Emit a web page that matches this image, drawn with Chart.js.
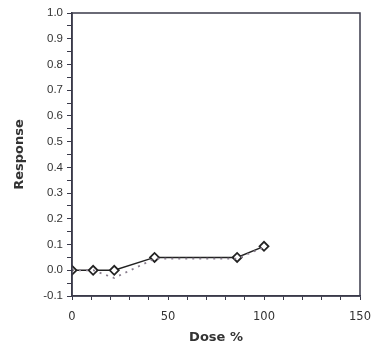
<!DOCTYPE html>
<html>
<head>
<meta charset="utf-8">
<script src="https://cdn.jsdelivr.net/npm/chart.js@4"></script>
<style>
  html, body { margin: 0; padding: 0; background: #fff; }
  #wrap { width: 372px; height: 349px; }
</style>
</head>
<body>
<div id="wrap"><canvas id="chart"></canvas></div>
<script>
// dose values (%)
var doses = [0, 11, 22, 43, 86, 100];
// solid line with diamonds
var responseObserved = [0.0, 0.0, 0.0, 0.05, 0.05, 0.093];
// dotted line
var responseFitted = [0.0, 0.0, -0.03, 0.045, 0.045, 0.09];

function toPoints(xs, ys) {
    return xs.map(function (x, i) { return { x: x, y: ys[i] }; });
}

// draw the frame round the plot area
var frame = {
    id: 'frame',
    afterDraw: function (chart) {
        var a = chart.chartArea;
        var c = chart.ctx;
        c.save();
        c.strokeStyle = '#3a3a4a';
        c.lineWidth = 1.5;
        c.strokeRect(a.left, a.top, a.right - a.left, a.bottom - a.top);
        c.restore();
    }
};

var ctx = document.getElementById('chart');
new Chart(ctx, {
    type: 'line',
    data: {
        datasets: [{
            label: 'fitted',
            data: toPoints(doses, responseFitted),
            borderColor: '#8a7f8f',
            borderWidth: 1.8,
            borderDash: [2, 5],
            pointRadius: 0,
            fill: false
        }, {
            label: 'observed',
            data: toPoints(doses, responseObserved),
            borderColor: '#222222',
            borderWidth: 1.5,
            pointStyle: 'rectRot',
            pointRadius: 4.5,
            pointBorderWidth: 1.8,
            pointBackgroundColor: '#ffffff',
            pointBorderColor: '#222222',
            fill: false
        }]
    },
    options: {
        responsive: true,
        maintainAspectRatio: false,
        animation: false,
        layout: { padding: { top: 13, right: 12, left: 0, bottom: 0 } },
        plugins: {
            legend: { display: false },
            tooltip: { enabled: false }
        },
        scales: {
            x: {
                type: 'linear',
                min: 0,
                max: 150,
                afterFit: function (s) {
                    s.height = 53;
                    s.paddingRight = 0;
                    s.paddingLeft = 0;
                },
                border: { color: '#3a3a4a', width: 1.5 },
                grid: { drawOnChartArea: false, tickLength: 4, color: '#3a3a4a' },
                ticks: {
                    stepSize: 10,
                    autoSkip: false,
                    maxRotation: 0,
                    color: '#333',
                    font: { family: 'DejaVu Sans', size: 11.5 },
                    padding: 10,
                    callback: function (v) { return v % 50 === 0 ? v : ''; }
                },
                title: {
                    display: true,
                    text: 'Dose %',
                    color: '#333',
                    font: { family: 'DejaVu Sans', size: 13, weight: 'bold' },
                    padding: { top: 2 }
                }
            },
            y: {
                min: -0.1,
                max: 1.0,
                afterFit: function (s) { s.width = 72; },
                border: { color: '#3a3a4a', width: 1.5 },
                grid: { drawOnChartArea: false, tickLength: 5, color: '#3a3a4a' },
                ticks: {
                    stepSize: 0.05,
                    autoSkip: false,
                    color: '#333',
                    font: { family: 'Liberation Sans', size: 11.5 },
                    padding: 4,
                    callback: function (v) {
                        var t = Math.round(v * 100);
                        return t % 10 === 0 ? (t / 100).toFixed(1) : '';
                    }
                },
                title: {
                    display: true,
                    text: 'Response',
                    color: '#333',
                    font: { family: 'DejaVu Sans', size: 13, weight: 'bold' },
                    padding: { top: 12, bottom: 4 }
                }
            }
        }
    },
    plugins: [frame]
});
</script>
</body>
</html>
